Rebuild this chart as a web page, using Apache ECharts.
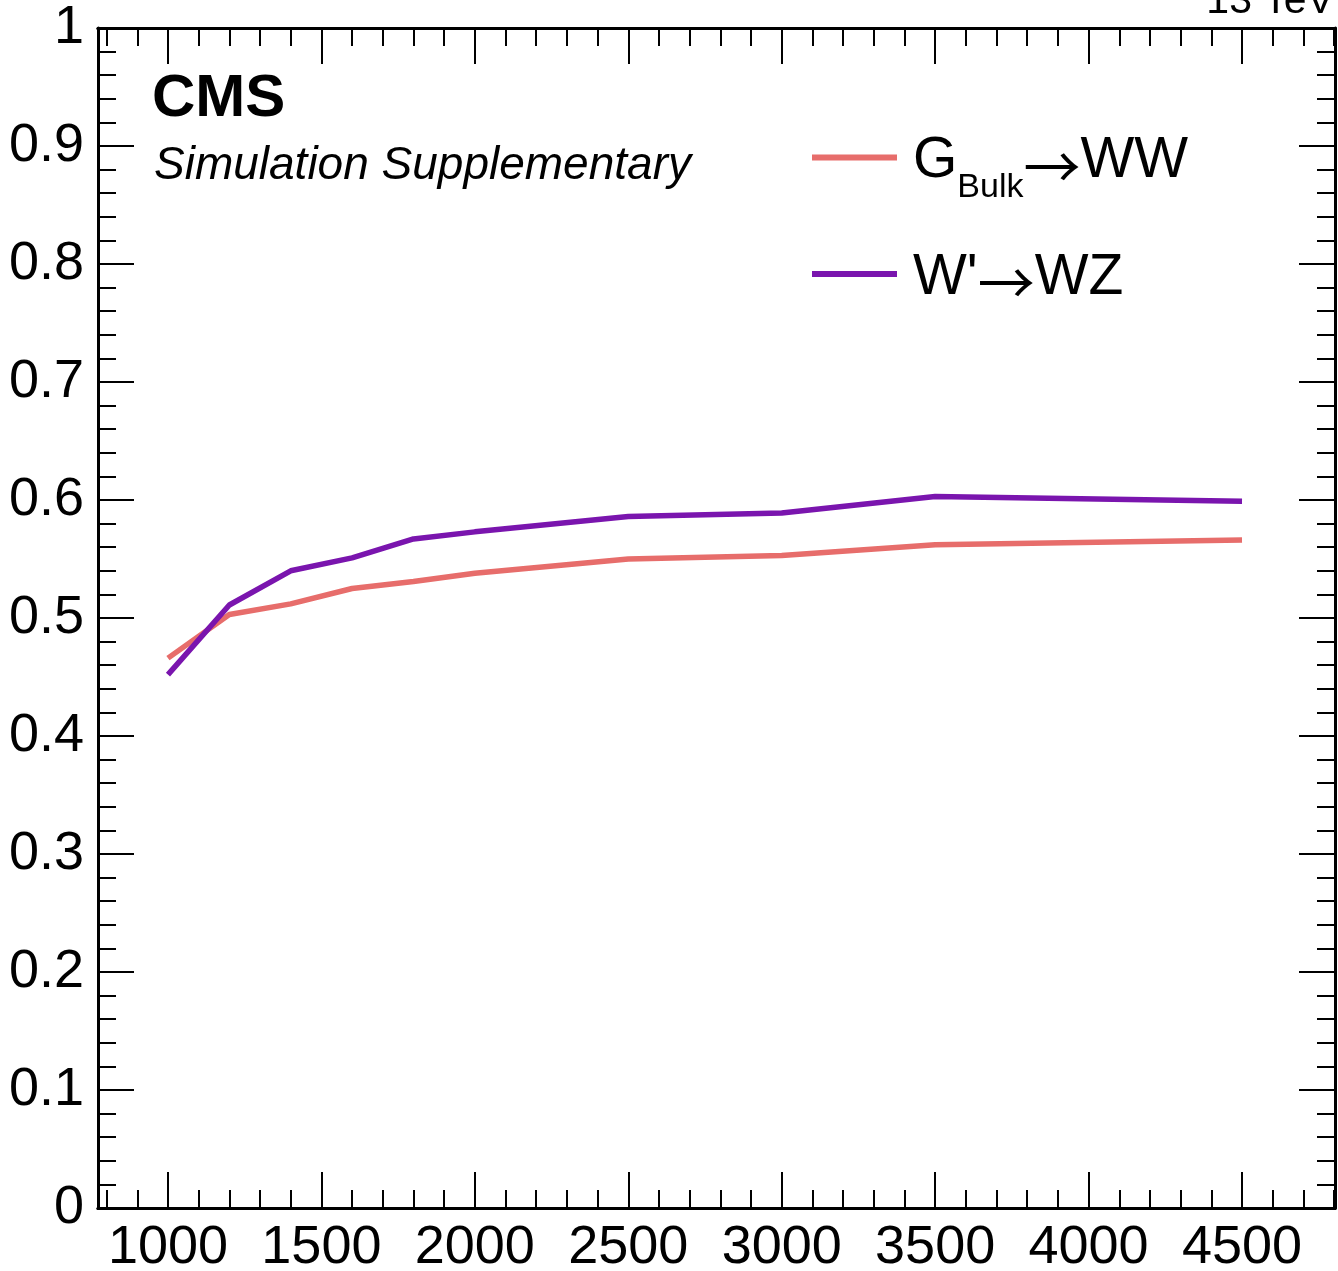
<!DOCTYPE html>
<html>
<head>
<meta charset="utf-8">
<script src="https://cdn.jsdelivr.net/npm/echarts@6/dist/echarts.min.js"></script>
<style>
html,body{margin:0;padding:0;background:#fff;}
#chart{width:1338px;height:1271px;}
</style>
</head>
<body>
<div id="chart"></div>
<script>
// ---- data ----
const massPoints = [1000, 1200, 1400, 1600, 1800, 2000, 2500, 3000, 3500, 4500];
const gBulkWW   = [0.466, 0.503, 0.512, 0.525, 0.531, 0.538, 0.550, 0.553, 0.562, 0.566];
const wprimeWZ  = [0.452, 0.511, 0.540, 0.551, 0.567, 0.573, 0.586, 0.589, 0.603, 0.599];
const seriesNames = ['G_Bulk→WW', "W'→WZ"];
const xMajorTicks = [1000, 1500, 2000, 2500, 3000, 3500, 4000, 4500];
const xMinorTicks = [800, 900, 1100, 1200, 1300, 1400, 1600, 1700, 1800, 1900, 2100, 2200, 2300, 2400,
  2600, 2700, 2800, 2900, 3100, 3200, 3300, 3400, 3600, 3700, 3800, 3900, 4100, 4200, 4300, 4400,
  4600, 4700, 4800];
const xRange = [772, 4803];
const yRange = [0, 1];

const FONT = '"Liberation Sans", Arial, Helvetica, sans-serif';
const ARROW_FONT = '"Noto Sans CJK SC", "DejaVu Sans", sans-serif';
const colors = ['#e76d6b', '#7a15ae'];

function pairs(xs, ys) { return xs.map((x, i) => [x, ys[i]]); }

const tickLine = { color: '#000', width: 2 };
function xAxisDef(pos, ticks, len, showLabel) {
  return {
    type: 'value', position: pos, min: xRange[0], max: xRange[1],
    axisLine: { show: true, onZero: false, lineStyle: { color: '#000', width: 3 } },
    axisTick: { show: true, inside: true, length: len, lineStyle: tickLine, customValues: ticks },
    axisLabel: showLabel ? { show: true, customValues: ticks, margin: 13, color: '#000', fontSize: 54, fontFamily: FONT,
      formatter: function (v) { return String(v); } } : { show: false },
    splitLine: { show: false }
  };
}
function yAxisDef(pos, showLabel) {
  return {
    type: 'value', position: pos, min: yRange[0], max: yRange[1], interval: 0.1,
    axisLine: { show: true, onZero: false, lineStyle: { color: '#000', width: 3 } },
    axisTick: { show: true, inside: true, length: 36, lineStyle: tickLine },
    minorTick: { show: true, splitNumber: 5, length: 18, lineStyle: tickLine },
    axisLabel: showLabel ? { show: true, margin: 14, color: '#000', fontSize: 54, fontFamily: FONT, padding: [4, 0, 0, 0] } : { show: false },
    splitLine: { show: false }, minorSplitLine: { show: false }
  };
}

const chart = echarts.init(document.getElementById('chart'), null, { renderer: 'canvas' });
chart.setOption({
  animation: false,
  backgroundColor: '#fff',
  grid: { left: 98, right: 3, top: 28, bottom: 63, containLabel: false, outerBoundsMode: 'none' },
  xAxis: [
    xAxisDef('bottom', xMajorTicks, 36, true),
    xAxisDef('bottom', xMinorTicks, 18, false),
    xAxisDef('top', xMajorTicks, 36, false),
    xAxisDef('top', xMinorTicks, 18, false)
  ],
  yAxis: [ yAxisDef('left', true), yAxisDef('right', false) ],
  legend: {
    orient: 'vertical', left: 812, top: 118.4, padding: 0,
    itemWidth: 85, itemHeight: 6, itemGap: 40.2,
    icon: 'rect',
    data: seriesNames,
    formatter: function (name) {
      if (name === seriesNames[0]) return '{m|G}{s|Bulk}{a|→}{m|WW}';
      return "{m|W'}{a|→}{m|WZ}";
    },
    textStyle: {
      color: '#000', fontFamily: FONT, fontSize: 57, padding: [8, 0, 0, 11],
      rich: {
        m: { fontSize: 57, fontFamily: FONT, color: '#000', lineHeight: 58, height: 58, verticalAlign: 'middle' },
        a: { fontSize: 57, fontFamily: ARROW_FONT, color: '#000', lineHeight: 58, height: 58, padding: [9, 0, 0, 0], verticalAlign: 'middle' },
        s: { fontSize: 34, fontFamily: FONT, color: '#000', lineHeight: 58, height: 34, padding: [52, 0, 0, 0], verticalAlign: 'middle' }
      }
    }
  },
  series: [
    { name: seriesNames[0], type: 'line', data: pairs(massPoints, gBulkWW), symbol: 'none',
      xAxisIndex: 0, yAxisIndex: 0, color: colors[0], itemStyle: { color: colors[0] }, lineStyle: { color: colors[0], width: 5.5 } },
    { name: seriesNames[1], type: 'line', data: pairs(massPoints, wprimeWZ), symbol: 'none',
      xAxisIndex: 0, yAxisIndex: 0, color: colors[1], itemStyle: { color: colors[1] }, lineStyle: { color: colors[1], width: 5.5 } }
  ],
  graphic: [
    { type: 'text', x: 152, y: 99, style: { text: 'CMS', font: 'bold 60px ' + FONT, fill: '#000', textAlign: 'left', textVerticalAlign: 'middle', align: 'left', verticalAlign: 'middle' } },
    { type: 'text', x: 154, y: 166, style: { text: 'Simulation Supplementary', font: 'italic 46px ' + FONT, fill: '#000', textAlign: 'left', textVerticalAlign: 'middle', align: 'left', verticalAlign: 'middle' } },
    { type: 'text', x: 1334, y: 22, style: { text: '13 TeV', font: '41px ' + FONT, fill: '#000', textAlign: 'right', textVerticalAlign: 'bottom', align: 'right', verticalAlign: 'bottom' } }
  ]
});
</script>
</body>
</html>
